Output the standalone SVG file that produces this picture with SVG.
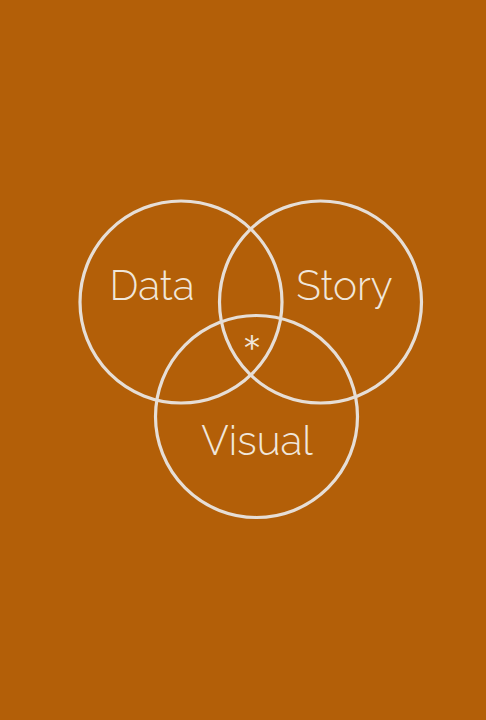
<svg xmlns="http://www.w3.org/2000/svg" width="486" height="720" viewBox="0 0 486 720">
<style>
.c{fill:none;stroke:#E6DED6;stroke-width:3.2}
.t{font-family:Raleway,Lato,"Open Sans",sans-serif;font-weight:300;font-size:40.5px;fill:#F0E6DA;text-anchor:middle}
</style>
<rect width="486" height="720" fill="#B35F08"/>
<g id="data"><circle class="c" cx="181" cy="302" r="101"/><text class="t" x="152" y="300">Data</text></g>
<g id="story"><circle class="c" cx="320.5" cy="302" r="101"/><text class="t" x="344.5" y="300">Story</text></g>
<g id="visual"><circle class="c" cx="256.5" cy="416.5" r="101"/><text class="t" x="257" y="455">Visual</text></g>
<g id="center"><text x="252" y="358" style="font-family:'DejaVu Sans',sans-serif;font-size:32px;fill:#F0E6DA;text-anchor:middle">*</text></g>
<g id="connectors"></g>
</svg>
